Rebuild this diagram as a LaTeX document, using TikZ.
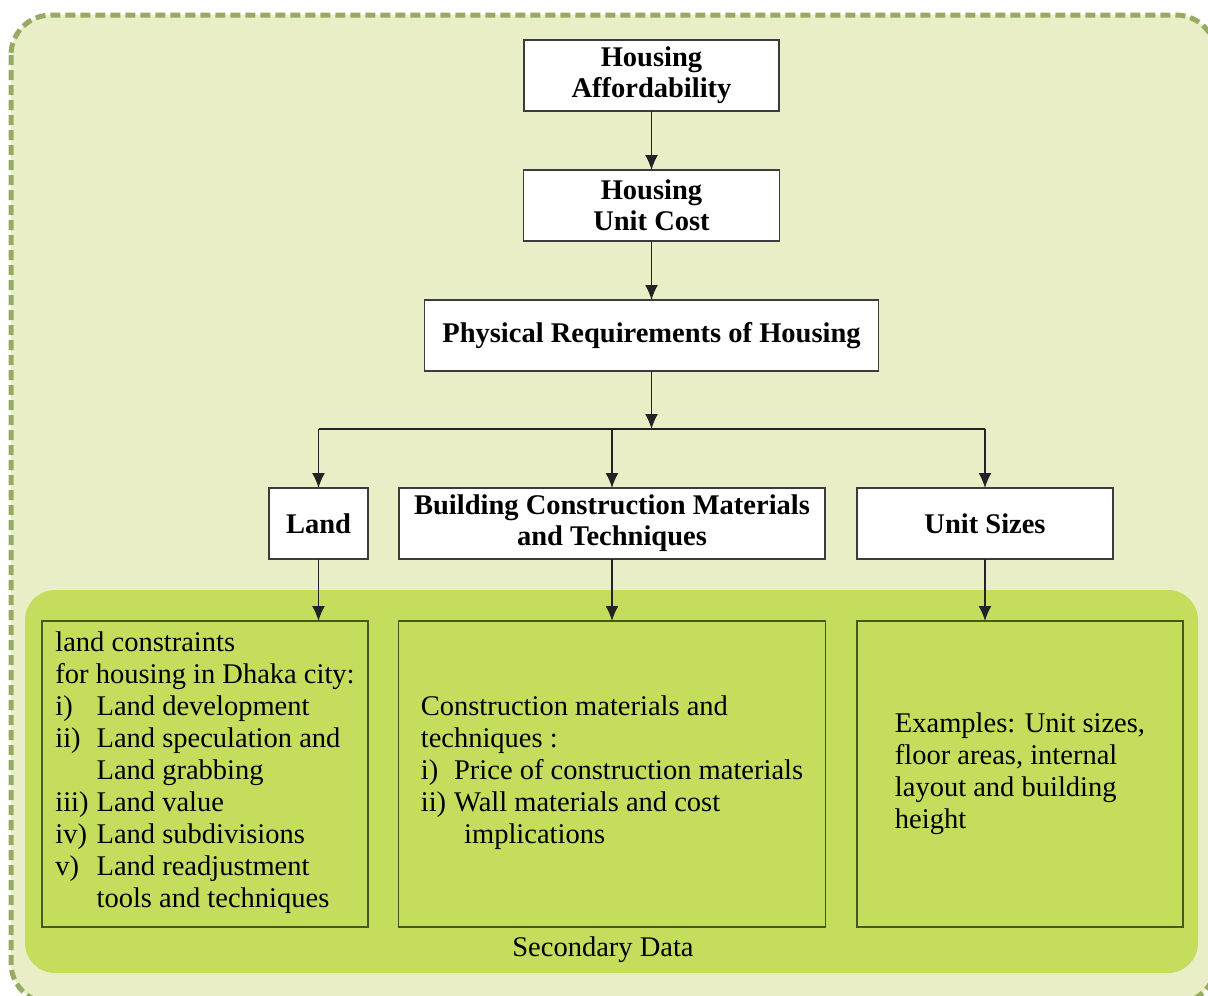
\documentclass[tikz,border=0pt]{standalone}
\usepackage{fontspec}
\setmainfont{Liberation Serif}
\usetikzlibrary{positioning,arrows.meta}

\definecolor{pagebg}{RGB}{233,238,198}
\definecolor{dashline}{RGB}{150,170,100}
\definecolor{panelgreen}{RGB}{196,221,92}
\definecolor{noteline}{RGB}{70,88,28}
\definecolor{headline}{RGB}{60,60,60}
\definecolor{connline}{RGB}{35,35,35}

\begin{document}
\begin{tikzpicture} [
	x=1pt,y=-1pt,
	text centered,
	node distance=59pt,
	nhead/.style={
		rectangle,draw=headline,line width=1.5pt,fill=white,
		minimum height=71pt,inner sep=0pt,outer sep=0pt,align=center,
		font=\fontsize{28.5}{31}\selectfont\bfseries
	},
	nnote/.style={
		rectangle,draw=noteline,line width=1.5pt,
		minimum height=306pt,inner sep=0pt,outer sep=0pt,align=left,
		font=\fontsize{28.5}{32}\selectfont
	},
	nconn/.style={
		draw=connline,line width=1.6pt,-{Latex[length=15pt,width=13pt]}
	}
]
\useasboundingbox (0,0) rectangle (1208,996);
\clip (0,0) rectangle (1208,996);
% panels
\draw [fill=pagebg,draw=dashline,line width=5pt,dash pattern=on 10pt off 5pt,
	rounded corners=40pt] (11,15) rectangle (1216,1003);
\fill [panelgreen,rounded corners=30pt] (25,590) rectangle (1198,973);

\node [nhead,minimum width=255pt]	(afford) at (651.5,75.5)	{Housing\\Affordability};
\node [nhead,minimum width=256pt]	(unitcost)[below=of afford]	{Housing\\Unit Cost};
\node [nhead,minimum width=454pt]	(physreq)[below=of unitcost]	{Physical Requirements of Housing};
\coordinate (split) at ([yshift=-58pt]physreq.south);
\node [nhead,minimum width=426pt]	(bcmt)[below=117pt of physreq,xshift=-39.5pt]	{Building Construction Materials\\and Techniques};
\node [nhead,minimum width=99pt]	(land)[left=31pt of bcmt]	{Land};
\node [nhead,minimum width=256pt]	(sizes)[right=32pt of bcmt]	{Unit Sizes};

\node [nnote,minimum width=326pt]	(ldata)[below=62pt of land.south east,anchor=north east]	{land constraints\\
	for housing in Dhaka city:\\
	\begin{tabular}[t]{@{}l@{\hspace{8pt}}l@{}}
	i)   & Land development\\
	ii)  & Land speculation and\\
	     & Land grabbing\\
	iii) & Land value\\
	iv)  & Land subdivisions\\
	v)   & Land readjustment\\
	     & tools and techniques
	\end{tabular}};
\node [nnote,minimum width=427pt]	(mdata)[below=62pt of bcmt]	{Construction materials and\\
	techniques :\\
	\begin{tabular}[t]{@{}l@{\hspace{8pt}}l@{}}
	i)  & Price of construction materials\\
	ii) & Wall materials and cost\\
	    & \hspace{10pt}implications
	\end{tabular}};
\node [nnote,minimum width=326pt]	(rdata)[below=62pt of sizes.south west,anchor=north west]	{Examples: Unit sizes,\\
	floor areas, internal\\
	layout and building\\
	height};
\node [font=\fontsize{28.5}{32}\selectfont]	(source) at (603,950)	{Secondary Data};

% connectors
\draw [nconn] (afford) -- (unitcost);
\draw [nconn] (unitcost) -- (physreq);
\draw [nconn] (physreq) -- (split);
\draw [draw=connline,line width=1.6pt] (land |- split) -- (sizes |- split);
\draw [nconn] (land |- split) -- (land);
\draw [nconn] (bcmt |- split) -- (bcmt);
\draw [nconn] (sizes |- split) -- (sizes);
\draw [nconn] (land) -- (land |- ldata.north);
\draw [nconn] (bcmt) -- (mdata);
\draw [nconn] (sizes) -- (sizes |- rdata.north);
\end{tikzpicture}
\end{document}
